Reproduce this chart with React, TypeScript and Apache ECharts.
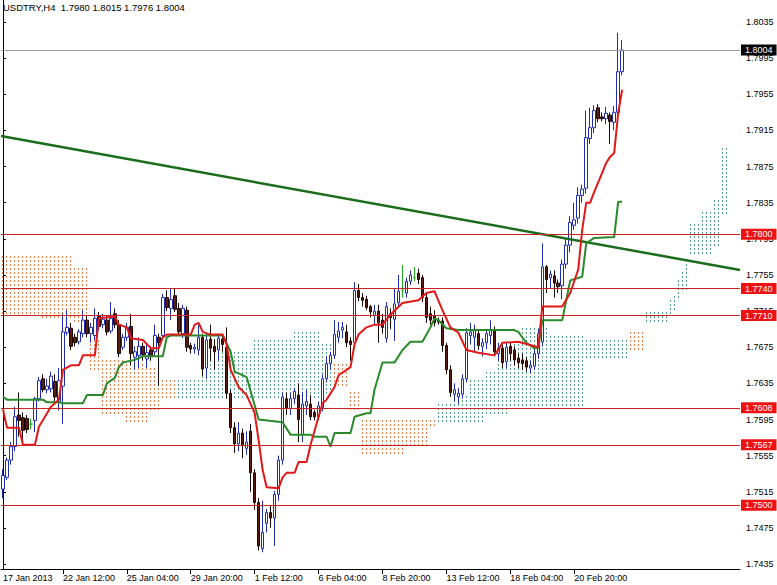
import React, { useEffect, useRef } from "react";
import * as echarts from "echarts";

const FONT = "'Liberation Sans', Arial, sans-serif";
const TOTAL_BARS = 185;
const HEADER = "USDTRY,H4  1.7980 1.8015 1.7976 1.8004";

const tickIdx = [0, 15, 31, 47, 63, 79, 95, 111, 127, 143];
const tickLabels = ["17 Jan 2013", "22 Jan 12:00", "25 Jan 04:00", "29 Jan 20:00", "1 Feb 12:00", "6 Feb 04:00", "8 Feb 20:00", "13 Feb 12:00", "18 Feb 04:00", "20 Feb 20:00"];
const yTicks = [1.7435, 1.7475, 1.7515, 1.7555, 1.7595, 1.7635, 1.7675, 1.7715, 1.7755, 1.7795, 1.7835, 1.7875, 1.7915, 1.7955, 1.7995, 1.8035];
const Y_MIN = 1.74295;
const Y_MAX = 1.80594;

const opens = [1.7518,1.7531,1.7550,1.7565,1.7600,1.7597,1.7596,1.7590,1.7594,1.7618,1.7640,1.7628,1.7629,1.7637,1.7615,1.7632,1.7691,1.7696,1.7686,1.7681,1.7690,1.7705,1.7690,1.7688,1.7709,1.7700,1.7705,1.7693,1.7712,1.7700,1.7675,1.7686,1.7698,1.7664,1.7666,1.7676,1.7662,1.7672,1.7670,1.7686,1.7688,1.7730,1.7718,1.7732,1.7718,1.7690,1.7716,1.7677,1.7673,1.7672,1.7686,1.7652,1.7684,1.7676,1.7672,1.7684,1.7675,1.7624,1.7586,1.7568,1.7580,1.7563,1.7582,1.7536,1.7503,1.7452,1.7480,1.7492,1.7486,1.7512,1.7550,1.7618,1.7607,1.7618,1.7622,1.7578,1.7610,1.7612,1.7603,1.7598,1.7608,1.7640,1.7657,1.7666,1.7686,1.7694,1.7692,1.7682,1.7680,1.7738,1.7730,1.7728,1.7720,1.7710,1.7715,1.7705,1.7685,1.7712,1.7706,1.7724,1.7738,1.7735,1.7748,1.7752,1.7757,1.7752,1.7730,1.7712,1.7710,1.7705,1.7704,1.7677,1.7650,1.7623,1.7620,1.7623,1.7640,1.7688,1.7686,1.7690,1.7676,1.7680,1.7688,1.7693,1.7668,1.7674,1.7659,1.7676,1.7672,1.7663,1.7661,1.7660,1.7652,1.7654,1.7668,1.7681,1.7764,1.7752,1.7754,1.7746,1.7743,1.7767,1.7788,1.7810,1.7818,1.7843,1.7851,1.7906,1.7918,1.7940,1.7930,1.7928,1.7932,1.7924,1.7935,1.7980];
const closes = [1.7533,1.7550,1.7565,1.7598,1.7594,1.7583,1.7584,1.7590,1.7618,1.7638,1.7628,1.7632,1.7643,1.7620,1.7638,1.7692,1.7697,1.7676,1.7680,1.7692,1.7705,1.7690,1.7697,1.7707,1.7698,1.7706,1.7692,1.7707,1.7700,1.7668,1.7686,1.7697,1.7668,1.7670,1.7676,1.7667,1.7669,1.7665,1.7688,1.7680,1.7730,1.7719,1.7728,1.7717,1.7692,1.7718,1.7675,1.7673,1.7675,1.7686,1.7651,1.7683,1.7674,1.7670,1.7685,1.7678,1.7624,1.7586,1.7568,1.7580,1.7567,1.7570,1.7536,1.7503,1.7455,1.7470,1.7492,1.7486,1.7512,1.7550,1.7620,1.7608,1.7618,1.7626,1.7595,1.7612,1.7615,1.7598,1.7598,1.7610,1.7640,1.7657,1.7666,1.7689,1.7693,1.7697,1.7680,1.7678,1.7738,1.7730,1.7727,1.7719,1.7714,1.7715,1.7702,1.7697,1.7720,1.7708,1.7723,1.7737,1.7738,1.7748,1.7755,1.7752,1.7750,1.7730,1.7708,1.7705,1.7702,1.7703,1.7677,1.7650,1.7625,1.7628,1.7624,1.7640,1.7691,1.7692,1.7695,1.7677,1.7680,1.7690,1.7694,1.7670,1.7674,1.7658,1.7675,1.7668,1.7661,1.7658,1.7657,1.7653,1.7655,1.7668,1.7690,1.7764,1.7750,1.7756,1.7746,1.7742,1.7767,1.7788,1.7813,1.7816,1.7843,1.7850,1.7907,1.7918,1.7937,1.7928,1.7928,1.7934,1.7925,1.7935,1.7980,1.8004];
const lows = [1.7508,1.7528,1.7545,1.7560,1.7576,1.7570,1.7580,1.7584,1.7581,1.7615,1.7625,1.7624,1.7625,1.7615,1.7605,1.7590,1.7688,1.7672,1.7676,1.7678,1.7686,1.7686,1.7680,1.7683,1.7694,1.7696,1.7688,1.7690,1.7696,1.7664,1.7672,1.7682,1.7655,1.7650,1.7652,1.7660,1.7652,1.7660,1.7665,1.7632,1.7685,1.7715,1.7705,1.7714,1.7688,1.7685,1.7670,1.7668,1.7668,1.7666,1.7643,1.7640,1.7660,1.7650,1.7660,1.7670,1.7618,1.7580,1.7558,1.7560,1.7552,1.7556,1.7515,1.7495,1.7450,1.7448,1.7470,1.7475,1.7455,1.7505,1.7545,1.7600,1.7600,1.7612,1.7570,1.7570,1.7600,1.7594,1.7594,1.7594,1.7604,1.7636,1.7650,1.7662,1.7680,1.7685,1.7675,1.7660,1.7676,1.7726,1.7720,1.7716,1.7708,1.7700,1.7680,1.7690,1.7680,1.7695,1.7682,1.7720,1.7730,1.7730,1.7744,1.7748,1.7745,1.7725,1.7702,1.7700,1.7698,1.7700,1.7670,1.7645,1.7620,1.7615,1.7612,1.7618,1.7636,1.7678,1.7670,1.7672,1.7665,1.7673,1.7678,1.7665,1.7660,1.7652,1.7652,1.7660,1.7655,1.7652,1.7650,1.7648,1.7646,1.7650,1.7662,1.7676,1.7735,1.7740,1.7730,1.7735,1.7728,1.7762,1.7780,1.7805,1.7812,1.7835,1.7845,1.7900,1.7912,1.7924,1.7925,1.7922,1.7900,1.7915,1.7930,1.7976];
const highs = [1.7540,1.7553,1.7570,1.7609,1.7625,1.7603,1.7600,1.7596,1.7620,1.7642,1.7645,1.7640,1.7648,1.7645,1.7652,1.7712,1.7716,1.7702,1.7690,1.7695,1.7716,1.7710,1.7702,1.7718,1.7714,1.7712,1.7710,1.7725,1.7718,1.7705,1.7690,1.7702,1.7712,1.7676,1.7686,1.7680,1.7678,1.7676,1.7700,1.7690,1.7734,1.7738,1.7740,1.7740,1.7724,1.7722,1.7720,1.7680,1.7679,1.7700,1.7690,1.7690,1.7700,1.7684,1.7690,1.7690,1.7697,1.7628,1.7592,1.7592,1.7585,1.7582,1.7590,1.7540,1.7508,1.7505,1.7496,1.7500,1.7516,1.7555,1.7625,1.7625,1.7625,1.7630,1.7635,1.7625,1.7628,1.7622,1.7606,1.7615,1.7645,1.7665,1.7670,1.7705,1.7703,1.7703,1.7700,1.7686,1.7747,1.7745,1.7735,1.7732,1.7722,1.7722,1.7722,1.7712,1.7725,1.7718,1.7740,1.7755,1.7766,1.7752,1.7760,1.7764,1.7762,1.7755,1.7735,1.7720,1.7716,1.7708,1.7708,1.7680,1.7655,1.7635,1.7630,1.7645,1.7696,1.7702,1.7700,1.7695,1.7685,1.7695,1.7705,1.7698,1.7680,1.7678,1.7680,1.7680,1.7676,1.7668,1.7668,1.7664,1.7660,1.7674,1.7695,1.7790,1.7766,1.7760,1.7760,1.7750,1.7772,1.7795,1.7820,1.7835,1.7852,1.7855,1.7937,1.7940,1.7943,1.7944,1.7935,1.7941,1.7935,1.7942,1.8023,1.8015];

// Tenkan-sen (red) and Kijun-sen (green) vertices: [bar index, price]
const tenkan = [[0,1.7606],[1,1.7586],[4,1.7586],[5,1.7567],[8,1.7567],[9,1.7587],[12,1.7609],[14,1.7617],[15,1.7650],[17,1.7655],[19,1.7655],[20,1.7666],[23,1.7666],[24,1.7707],[28,1.7709],[29,1.7700],[31,1.7697],[32,1.7685],[35,1.7683],[37,1.7674],[39,1.7674],[40,1.7686],[41,1.7689],[47,1.7689],[48,1.7700],[49,1.7702],[50,1.7692],[52,1.7689],[55,1.7689],[56,1.7678],[57,1.7650],[59,1.7631],[61,1.7622],[63,1.7602],[64,1.7572],[65,1.7539],[66,1.7520],[69,1.7519],[70,1.7531],[71,1.7536],[73,1.7536],[74,1.7548],[76,1.7548],[77,1.7567],[79,1.7598],[80,1.7613],[81,1.7617],[83,1.7631],[84,1.7644],[86,1.7650],[87,1.7653],[88,1.7678],[89,1.7689],[91,1.7697],[93,1.7700],[95,1.7700],[97,1.7711],[100,1.7724],[104,1.7727],[106,1.7735],[108,1.7737],[110,1.7716],[112,1.7697],[114,1.7691],[116,1.7672],[119,1.7669],[123,1.7666],[124,1.7672],[125,1.7680],[129,1.7681],[134,1.7675],[135,1.7720],[140,1.7720],[142,1.7735],[144,1.7761],[145,1.7805],[146,1.7835],[147,1.7835],[148,1.7847],[150,1.7868],[151,1.7879],[152,1.7886],[153,1.7890],[154,1.7934],[155,1.7960]];
const kijun = [[0,1.7620],[1,1.7617],[10,1.7617],[11,1.7614],[14,1.7614],[15,1.7613],[20,1.7613],[21,1.7622],[25,1.7622],[26,1.7635],[28,1.7641],[29,1.7653],[30,1.7658],[33,1.7661],[35,1.7665],[40,1.7665],[41,1.7686],[42,1.7688],[55,1.7688],[57,1.7670],[58,1.7648],[61,1.7642],[64,1.7595],[70,1.7592],[72,1.7578],[77,1.7578],[78,1.7576],[81,1.7576],[82,1.7565],[83,1.7580],[87,1.7580],[88,1.7598],[91,1.7602],[92,1.7602],[93,1.7628],[95,1.7658],[98,1.7658],[100,1.7672],[102,1.7681],[105,1.7681],[107,1.7697],[108,1.7707],[109,1.7705],[111,1.7696],[114,1.7694],[128,1.7694],[129,1.7692],[131,1.7680],[133,1.7674],[134,1.7674],[135,1.7705],[140,1.7705],[142,1.7749],[145,1.7753],[146,1.7790],[148,1.7796],[153,1.7797],[154,1.7836],[155,1.7836]];

// Kumo runs: [from bar, to bar, top, bottom, kind (0 orange, 1 teal)]
const cloudRuns = [
  [0, 9, 1.7777, 1.7714, 0], [10, 17, 1.7777, 1.7708, 0], [18, 21, 1.7766, 1.7705, 0],
  [22, 24, 1.7686, 1.7652, 0], [25, 30, 1.7664, 1.7600, 0], [31, 36, 1.7660, 1.7594, 0],
  [37, 39, 1.7655, 1.7605, 0], [40, 43, 1.7640, 1.7617, 0],
  [44, 49, 1.7643, 1.7617, 1], [50, 62, 1.7672, 1.7617, 1], [63, 72, 1.7685, 1.7617, 1],
  [73, 79, 1.7692, 1.7617, 1], [80, 82, 1.7683, 1.7625, 1],
  [83, 86, 1.7657, 1.7633, 0], [87, 89, 1.7628, 1.7606, 0], [90, 100, 1.7598, 1.7559, 0],
  [101, 106, 1.7598, 1.7567, 0], [107, 108, 1.7597, 1.7590, 0],
  [109, 112, 1.7613, 1.7591, 1], [113, 116, 1.7625, 1.7591, 1], [117, 120, 1.7640, 1.7591, 1],
  [121, 123, 1.7652, 1.7600, 1], [124, 126, 1.7665, 1.7600, 1], [127, 129, 1.7680, 1.7609, 1],
  [130, 136, 1.7700, 1.7609, 1], [137, 145, 1.7690, 1.7609, 1], [146, 156, 1.7686, 1.7664, 1],
  [157, 160, 1.7694, 1.7672, 0],
  [161, 166, 1.7716, 1.7705, 1], [167, 167, 1.7728, 1.7712, 1], [168, 168, 1.7735, 1.7715, 1],
  [169, 169, 1.7750, 1.7730, 1], [170, 170, 1.7762, 1.7738, 1], [171, 171, 1.7771, 1.7738, 1],
  [172, 174, 1.7812, 1.7779, 1], [175, 177, 1.7825, 1.7779, 1], [178, 179, 1.7841, 1.7785, 1],
  [180, 181, 1.7899, 1.7824, 1],
];

const trendline = [[-0.5, 1.79088], [184.5, 1.77605]];
const levels = [1.78, 1.774, 1.771, 1.7608, 1.7567, 1.75];
const bidLevel = 1.8004;

const ORANGE = "#ea7c4a";
const TEAL = "#55a191";

export default function App() {
  const ref = useRef<HTMLDivElement>(null);
  useEffect(() => {
    if (!ref.current) return;
    const chart = echarts.init(ref.current, undefined, { renderer: "svg" });
    const categories = Array.from({ length: TOTAL_BARS }, (_, i) => String(i));
    const candles = opens.map((o, i) => [o, closes[i], lows[i], highs[i]]);
    const cloudData: number[][] = [];
    cloudRuns.forEach((r) => {
      for (let i = r[0]; i <= r[1]; i++) cloudData.push([i, r[2], r[3], r[4]]);
    });
    const levelLabel = (bg: string) => ({
      show: true,
      position: "end",
      distance: 1,
      formatter: (p: any) => Number(p.value).toFixed(4),
      backgroundColor: bg,
      color: "#fff",
      fontSize: 9,
      fontFamily: FONT,
      padding: [1, 4, 1, 4],
    });
    chart.setOption({
      animation: false,
      backgroundColor: "#ffffff",
      title: {
        text: HEADER,
        left: 3,
        top: 2,
        padding: 0,
        textStyle: { fontSize: 9.5, fontWeight: "normal", color: "#000", fontFamily: FONT },
      },
      grid: { left: 1, right: 37, top: 0, bottom: 16, containLabel: false },
      xAxis: [
        {
          type: "category",
          data: categories,
          boundaryGap: true,
          axisLine: { show: true, lineStyle: { color: "#000", width: 1 } },
          axisTick: {
            show: true,
            alignWithLabel: true,
            length: 5,
            interval: (i: number) => i > 0 && tickIdx.includes(i),
            lineStyle: { color: "#000" },
          },
          axisLabel: {
            interval: (i: number) => tickIdx.includes(i),
            formatter: (_v: string, i: number) => tickLabels[tickIdx.indexOf(i)] ?? "",
            align: "left",
            fontSize: 9,
            color: "#000",
            margin: 4,
            fontFamily: FONT,
          },
          splitLine: { show: false },
        },
        { type: "value", min: -0.5, max: TOTAL_BARS - 0.5, show: false },
      ],
      yAxis: {
        type: "value",
        position: "right",
        min: Y_MIN,
        max: Y_MAX,
        axisLine: { show: true, lineStyle: { color: "#000", width: 1 } },
        axisTick: { show: true, length: 3, customValues: yTicks, lineStyle: { color: "#000" } },
        axisLabel: {
          customValues: yTicks,
          formatter: (v: number) => Number(v).toFixed(4),
          fontSize: 9,
          color: "#000",
          margin: 6,
          fontFamily: FONT,
        },
        splitLine: { show: false },
      },
      series: [
        {
          type: "custom",
          xAxisIndex: 1,
          z: 1,
          silent: true,
          clip: true,
          data: cloudData,
          encode: { x: 0, y: [1, 2] },
          renderItem: (_params: any, api: any) => {
            const i = api.value(0);
            const p1 = api.coord([i, api.value(1)]);
            const p2 = api.coord([i, api.value(2)]);
            const x = 2 * Math.floor(p1[0] / 2);
            const yTop = Math.min(p1[1], p2[1]);
            const yBot = Math.max(p1[1], p2[1]);
            const fill = api.value(3) ? TEAL : ORANGE;
            const children: any[] = [];
            for (let y = Math.ceil(yTop / 4) * 4; y <= yBot; y += 4) {
              children.push({
                type: "rect",
                shape: { x, y, width: 1, height: 2 },
                style: { fill },
              });
            }
            return { type: "group", children };
          },
        },
        {
          type: "candlestick",
          xAxisIndex: 0,
          z: 2,
          barWidth: 3,
          data: candles,
          itemStyle: {
            color: "#ffffff",
            color0: "#5a1d12",
            borderColor: "#1f2db3",
            borderColor0: "#1a0805",
            borderColorDoji: "#22aa22",
            borderWidth: 1,
          },
          markLine: {
            silent: true,
            symbol: "none",
            precision: 4,
            data: [
              ...levels.map((v) => ({
                yAxis: v,
                lineStyle: { color: "#c82424", width: 1, type: "solid" },
                label: levelLabel("#ee1111"),
              })),
              {
                yAxis: bidLevel,
                lineStyle: { color: "#9a9a9a", width: 1, type: "solid" },
                label: levelLabel("#000000"),
              },
            ],
          },
        },
        {
          type: "line",
          xAxisIndex: 1,
          z: 3,
          data: trendline,
          symbol: "none",
          silent: true,
          lineStyle: { color: "#1b6c1b", width: 2.5 },
        },
        {
          type: "line",
          xAxisIndex: 1,
          z: 3,
          data: kijun,
          symbol: "none",
          silent: true,
          lineStyle: { color: "#2a8a2a", width: 2 },
        },
        {
          type: "line",
          xAxisIndex: 1,
          z: 4,
          data: tenkan,
          symbol: "none",
          silent: true,
          lineStyle: { color: "#e21818", width: 2 },
        },
      ],
    });
    return () => chart.dispose();
  }, []);
  return (
    <div
      ref={ref}
      style={{ position: "absolute", left: 0, top: 0, width: 777, height: 585, background: "#fff" }}
    />
  );
}
